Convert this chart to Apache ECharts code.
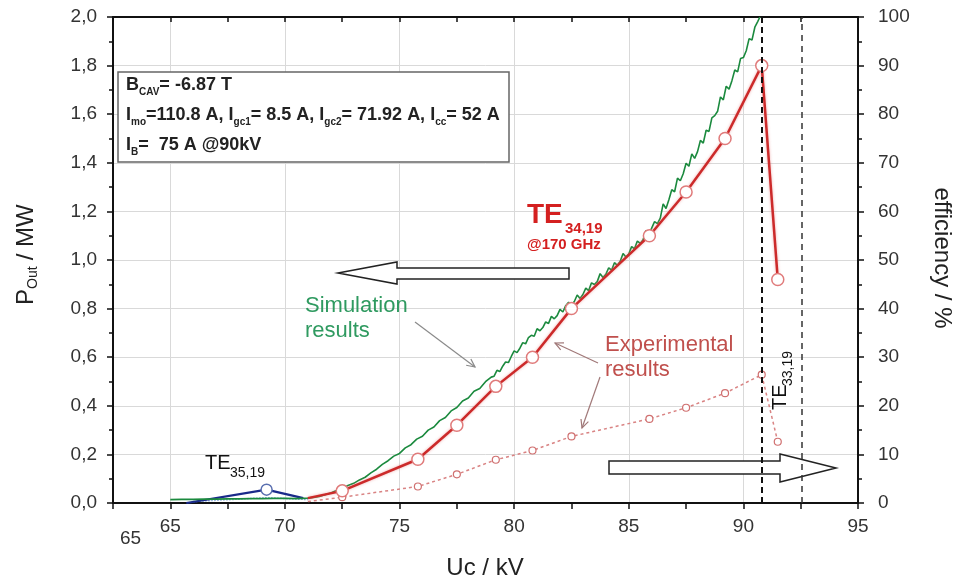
<!DOCTYPE html>
<html>
<head>
<meta charset="utf-8">
<script src="https://cdn.jsdelivr.net/npm/echarts@6.0.0/dist/echarts.min.js"></script>
<style>
html, body { margin: 0; padding: 0; background: #fff; }
#chart { width: 960px; height: 582px; }
</style>
</head>
<body>
<div id="chart"></div>
<script>
// simulation (green)
var simUc = [65.0, 65.5, 66.0, 66.5, 67.0, 67.5, 68.0, 68.5, 69.0, 69.5, 70.0, 70.5,
    71.0, 71.25, 71.5, 71.75, 72.0, 72.25, 72.5, 72.75, 73.0, 73.25, 73.5, 73.75,
    74.0, 74.25, 74.5, 74.75, 75.0, 75.25, 75.5, 75.75, 76.0, 76.25, 76.5, 76.75,
    77.0, 77.25, 77.5, 77.75, 78.0, 78.25, 78.5, 78.75,
    79.0, 79.125, 79.25, 79.375, 79.5, 79.625, 79.75, 79.875,
    80.0, 80.125, 80.25, 80.375, 80.5, 80.625, 80.75, 80.875,
    81.0, 81.125, 81.25, 81.375, 81.5, 81.625, 81.75, 81.875,
    82.0, 82.125, 82.25, 82.375, 82.5, 82.625, 82.75, 82.875,
    83.0, 83.125, 83.25, 83.375, 83.5, 83.625, 83.75, 83.875,
    84.0, 84.125, 84.25, 84.375, 84.5, 84.625, 84.75, 84.875,
    85.0, 85.125, 85.25, 85.375, 85.5, 85.625, 85.75, 85.875,
    86.0, 86.125, 86.25, 86.375, 86.5, 86.625, 86.75, 86.875,
    87.0, 87.125, 87.25, 87.375, 87.5, 87.625, 87.75, 87.875,
    88.0, 88.125, 88.25, 88.375, 88.5, 88.625, 88.75, 88.875,
    89.0, 89.125, 89.25, 89.375, 89.5, 89.625, 89.75, 89.875,
    90.0, 90.125, 90.25, 90.375, 90.5, 90.625, 90.72];
var simP = [0.014, 0.015, 0.015, 0.016, 0.016, 0.017, 0.017, 0.018, 0.018, 0.019, 0.019, 0.018,
    0.020, 0.023, 0.027, 0.034, 0.041, 0.051, 0.059, 0.072, 0.081, 0.095, 0.106, 0.124,
    0.139, 0.159, 0.174, 0.193, 0.204, 0.227, 0.240, 0.263, 0.275, 0.300, 0.313, 0.339,
    0.352, 0.379, 0.393, 0.420, 0.432, 0.460, 0.471, 0.499,
    0.518, 0.522, 0.546, 0.541, 0.563, 0.580, 0.578, 0.603,
    0.626, 0.619, 0.637, 0.660, 0.655, 0.681, 0.690, 0.686,
    0.717, 0.709, 0.722, 0.745, 0.739, 0.768, 0.758, 0.771,
    0.797, 0.786, 0.812, 0.826, 0.813, 0.829, 0.856, 0.842,
    0.858, 0.884, 0.874, 0.906, 0.899, 0.911, 0.944, 0.928,
    0.941, 0.968, 0.958, 0.989, 0.978, 0.994, 1.027, 1.012,
    1.025, 1.055, 1.046, 1.078, 1.068, 1.083, 1.121, 1.104,
    1.131, 1.158, 1.150, 1.172, 1.231, 1.212, 1.248, 1.289,
    1.281, 1.337, 1.326, 1.355, 1.398, 1.386, 1.437, 1.418,
    1.446, 1.492, 1.481, 1.534, 1.529, 1.585, 1.594, 1.612,
    1.671, 1.659, 1.715, 1.703, 1.738, 1.782, 1.774, 1.829,
    1.833, 1.861, 1.911, 1.905, 1.958, 1.981, 2.000];

// experimental output power TE34,19 (red)
var expUc = [71.0, 72.5, 75.8, 77.5, 79.2, 80.8, 82.5, 85.9, 87.5, 89.2, 90.8, 91.5];
var expP = [0.02, 0.05, 0.18, 0.32, 0.48, 0.60, 0.80, 1.10, 1.28, 1.50, 1.80, 0.92];
// experimental efficiency in % (dotted)
var effUc = [71.0, 72.5, 75.8, 77.5, 79.2, 80.8, 82.5, 85.9, 87.5, 89.2, 90.8, 91.5];
var effPct = [0.3, 1.2, 3.4, 5.9, 8.9, 10.8, 13.7, 17.3, 19.6, 22.6, 26.4, 12.6];
// TE35,19 (blue)
var te35Uc = [65.7, 69.2, 70.8];
var te35P = [0.0, 0.055, 0.02];
var te35EffUc = [66.0, 69.2, 71.0];
var te35Eff = [0.3, 1.1, 0.7];
// mode boundaries, kV
var modeLines = [90.8, 92.55];

var FONT = 'Liberation Sans, Arial, sans-serif';

function pairs(xs, ys) {
    return xs.map(function(x, i) { return [x, ys[i]]; });
}

var expData = pairs(expUc, expP).map(function(p, i) {
    return i === 0 ? { value: p, symbol: 'none' } : p;
});
var effData = pairs(effUc, effPct).map(function(p, i) {
    return i === 0 ? { value: p, symbol: 'none' } : p;
});
var te35Data = pairs(te35Uc, te35P).map(function(p, i) {
    return i === 1 ? p : { value: p, symbol: 'none' };
});

function thinArrow(x1, y1, x2, y2, color) {
    var a = Math.atan2(y2 - y1, x2 - x1), L = 9, w = 0.45;
    return [
        { type: 'line', z: 10, shape: { x1: x1, y1: y1, x2: x2, y2: y2 }, style: { stroke: color, lineWidth: 1.2 } },
        { type: 'polyline', z: 10, shape: { points: [
            [x2 - L * Math.cos(a - w), y2 - L * Math.sin(a - w)], [x2, y2],
            [x2 - L * Math.cos(a + w), y2 - L * Math.sin(a + w)]] },
          style: { stroke: color, lineWidth: 1.2, fill: null } }
    ];
}

function txt(x, y, s, size, color, weight) {
    return { type: 'text', x: x, y: y, z: 10,
        style: { text: s, fill: color, font: (weight || 'normal') + ' ' + size + 'px ' + FONT,
                 align: 'left', verticalAlign: 'middle' } };
}

var boxRich = {
    m: { fontSize: 18, fontWeight: 'bold', fontFamily: FONT, fill: '#222', lineHeight: 24, verticalAlign: 'middle' },
    s: { fontSize: 10, fontWeight: 'bold', fontFamily: FONT, fill: '#222', verticalAlign: 'bottom' }
};

var graphics = [
    // big hollow arrows
    { type: 'polygon', z: 1, shape: { points: [[338, 273], [397, 262], [397, 268], [569, 268], [569, 279], [397, 279], [397, 284]] },
      style: { fill: '#fff', stroke: '#222', lineWidth: 1.5 } },
    { type: 'polygon', z: 1, shape: { points: [[609, 461], [780, 461], [780, 454], [836, 468], [780, 482], [780, 474], [609, 474]] },
      style: { fill: '#fff', stroke: '#222', lineWidth: 1.5 } },
    // parameter box
    { type: 'rect', z: 5, shape: { x: 118, y: 72, width: 391, height: 90 },
      style: { fill: '#fff', stroke: '#666', lineWidth: 1.5 } },
    { type: 'text', x: 126, y: 85, z: 10, style: { text: '{m|B}{s|CAV}{m|= -6.87 T}', rich: boxRich, verticalAlign: 'middle' } },
    { type: 'text', x: 126, y: 115, z: 10, style: { text: '{m|I}{s|mo}{m|=110.8 A, I}{s|gc1}{m|= 8.5 A, I}{s|gc2}{m|= 71.92 A, I}{s|cc}{m|= 52 A}', rich: boxRich, verticalAlign: 'middle' } },
    { type: 'text', x: 126, y: 145, z: 10, style: { text: '{m|I}{s|B}{m|=  75 A @90kV}', rich: boxRich, verticalAlign: 'middle' } },
    // mode labels
    txt(527, 215, 'TE', 28, '#d42020', 'bold'),
    txt(565, 229, '34,19', 15, '#d42020', 'bold'),
    txt(527, 245, '@170 GHz', 15, '#d42020', 'bold'),
    txt(205, 463, 'TE', 20, '#111'),
    txt(230, 473, '35,19', 14, '#111'),
    { type: 'group', x: 780, y: 410, rotation: Math.PI / 2, children: [
        txt(0, 0, 'TE', 20, '#111'),
        txt(24, 8, '33,19', 14, '#111')
    ] },
    txt(305, 306, 'Simulation', 22, '#2f9a60'),
    txt(305, 331, 'results', 22, '#2f9a60'),
    txt(605, 345, 'Experimental', 22, '#c0504d'),
    txt(605, 370, 'results', 22, '#c0504d'),
    // axis titles
    { type: 'group', x: 26, y: 305, rotation: Math.PI / 2, children: [
        txt(0, 0, 'P', 24, '#222'),
        txt(16, 7, 'Out', 14, '#222'),
        txt(38, 0, ' / MW', 24, '#222')
    ] },
    { type: 'text', x: 942, y: 258, rotation: -Math.PI / 2, z: 10,
      style: { text: 'efficiency / %', fill: '#222', font: '24px ' + FONT, align: 'center', verticalAlign: 'middle' } },
    { type: 'text', x: 485, y: 568, z: 10,
      style: { text: 'Uc / kV', fill: '#222', font: '24px ' + FONT, align: 'center', verticalAlign: 'middle' } },
    txt(120, 539, '65', 19, '#333')
].concat(
    thinArrow(415, 322, 475, 367, '#8a8a8a'),
    thinArrow(598, 363, 555, 343, '#a07878'),
    thinArrow(600, 377, 582, 428, '#a07878')
);

var axisLineStyle = { color: '#111', width: 2 };
var tickLine = { color: '#111', width: 1.5 };
var labelStyle = { fontSize: 19, color: '#333', fontFamily: FONT };

var option = {
    animation: false,
    backgroundColor: '#fff',
    grid: { left: 113, right: 102, top: 17, bottom: 79 },
    xAxis: [{
        type: 'value', min: 62.5, max: 95, interval: 2.5, position: 'bottom',
        axisLine: { show: true, onZero: false, lineStyle: axisLineStyle },
        axisTick: { show: true, length: 6, lineStyle: tickLine },
        axisLabel: Object.assign({ margin: 14, formatter: function(v) {
            return Math.abs(v % 5) < 1e-6 ? String(v) : '';
        } }, labelStyle),
        splitLine: { show: true, lineStyle: { color: ['rgba(0,0,0,0)', '#d9d9d9'], width: 1 } }
    }, {
        type: 'value', min: 62.5, max: 95, interval: 2.5, position: 'top',
        axisLine: { show: true, onZero: false, lineStyle: axisLineStyle },
        axisTick: { show: true, inside: true, length: 5, lineStyle: tickLine },
        axisLabel: { show: false },
        splitLine: { show: false }
    }],
    yAxis: [{
        type: 'value', min: 0, max: 2, interval: 0.2, position: 'left',
        axisLine: { show: true, onZero: false, lineStyle: axisLineStyle },
        axisTick: { show: true, length: 6, lineStyle: tickLine },
        minorTick: { show: true, splitNumber: 2, length: 4, lineStyle: tickLine },
        axisLabel: Object.assign({ margin: 16, formatter: function(v) {
            return v.toFixed(1).replace('.', ',');
        } }, labelStyle),
        splitLine: { show: true, lineStyle: { color: '#d9d9d9', width: 1 } }
    }, {
        type: 'value', min: 0, max: 100, interval: 10, position: 'right',
        axisLine: { show: true, onZero: false, lineStyle: axisLineStyle },
        axisTick: { show: true, length: 6, lineStyle: tickLine },
        minorTick: { show: true, splitNumber: 2, length: 4, lineStyle: tickLine },
        axisLabel: Object.assign({ margin: 20 }, labelStyle),
        splitLine: { show: false }
    }],
    series: [{
        name: 'TE35,19 eff', type: 'line', yAxisIndex: 1, data: pairs(te35EffUc, te35Eff),
        symbol: 'none', lineStyle: { color: '#7fa7d8', width: 1.5, type: 'dotted' }
    }, {
        name: 'TE35,19', type: 'line', data: te35Data,
        symbol: 'circle', symbolSize: 11,
        lineStyle: { color: '#1a2a8a', width: 2.2 },
        itemStyle: { color: '#fff', borderColor: '#5a6fb0', borderWidth: 1.5 }
    }, {
        name: 'Simulation', type: 'line', data: pairs(simUc, simP),
        symbol: 'none', lineStyle: { color: '#1b8a3e', width: 1.6 }
    }, {
        name: 'Efficiency', type: 'line', yAxisIndex: 1, data: effData,
        symbol: 'circle', symbolSize: 7,
        lineStyle: { color: '#d98383', width: 1.5, type: [3, 3] },
        itemStyle: { color: '#fff', borderColor: '#d07070', borderWidth: 1.2 },
        markLine: {
            silent: true, symbol: ['none', 'none'], label: { show: false },
            data: [
                { xAxis: modeLines[0], lineStyle: { color: '#111', type: [6, 4], width: 2 } },
                { xAxis: modeLines[1], lineStyle: { color: '#333', type: [6, 5], width: 1.5 } }
            ]
        }
    }, {
        name: 'Experiment', type: 'line', data: expData,
        symbol: 'circle', symbolSize: 12,
        lineStyle: { color: '#cc2a2a', width: 2.5, shadowColor: 'rgba(230,120,120,0.6)', shadowBlur: 3 },
        itemStyle: { color: '#fff', borderColor: '#e07b7b', borderWidth: 1.5 }
    }],
    graphic: graphics
};

var myChart = echarts.init(document.getElementById('chart'));
myChart.setOption(option);
</script>
</body>
</html>
